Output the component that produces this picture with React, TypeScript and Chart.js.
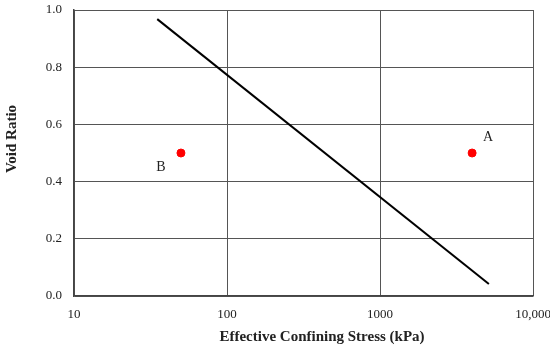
import React, { useEffect, useRef } from "react";
import { Chart, registerables } from "chart.js";
Chart.register(...registerables);

const lineX = [35, 5150];
const lineY = [0.968, 0.042];
const pointX = [4000, 50];
const pointY = [0.5, 0.5];
const pointLabels = ["A", "B"];
const xTicks = [10, 100, 1000, 10000];
const xTickLabels = ["10", "100", "1000", "10,000"];
const yTicks = [0, 0.2, 0.4, 0.6, 0.8, 1.0];
const xTitle = "Effective Confining Stress (kPa)";
const yTitle = "Void Ratio";

const FONT = "'Liberation Serif', 'DejaVu Serif', serif";

const labelPlugin = {
  id: "pointLabels",
  afterDatasetsDraw(chart: any) {
    const ctx = chart.ctx;
    const xs = chart.scales.x;
    const ys = chart.scales.y;
    const offsets = [
      [16, -16],
      [-20, 14],
    ];
    ctx.save();
    ctx.font = `14px ${FONT}`;
    ctx.fillStyle = "#222";
    ctx.textAlign = "center";
    ctx.textBaseline = "middle";
    pointLabels.forEach((t, i) => {
      const px = xs.getPixelForValue(pointX[i]);
      const py = ys.getPixelForValue(pointY[i]);
      ctx.fillText(t, px + offsets[i][0], py + offsets[i][1]);
    });
    // axis titles
    ctx.font = `bold 15px ${FONT}`;
    ctx.fillText(xTitle, 322, 337);
    ctx.translate(12, 139);
    ctx.rotate(-Math.PI / 2);
    ctx.fillText(yTitle, 0, 0);
    ctx.restore();
  },
};

export default function App() {
  const ref = useRef<HTMLCanvasElement>(null);
  useEffect(() => {
    const chart = new Chart(ref.current!, {
      type: "scatter",
      data: {
        datasets: [
          {
            label: "line",
            data: lineX.map((x, i) => ({ x, y: lineY[i] })),
            showLine: true,
            borderColor: "#000",
            borderWidth: 2,
            pointRadius: 0,
          },
          {
            label: "points",
            data: pointX.map((x, i) => ({ x, y: pointY[i] })),
            backgroundColor: "#ff0000",
            borderColor: "#ff0000",
            pointRadius: 4,
          },
        ],
      },
      options: {
        animation: false,
        responsive: true,
        maintainAspectRatio: false,
        layout: { padding: { top: 10, right: 17, left: 0, bottom: 0 } },
        plugins: { legend: { display: false }, tooltip: { enabled: false } },
        scales: {
          x: {
            type: "logarithmic",
            min: 10,
            max: 10000,
            afterBuildTicks: (axis: any) => {
              axis.ticks = xTicks.map((v) => ({ value: v }));
            },
            afterFit: (axis: any) => {
              axis.height = 54;
              axis.paddingRight = 0;
              axis.paddingLeft = 0;
            },
            ticks: {
              autoSkip: false,
              maxRotation: 0,
              padding: 11,
              color: "#222",
              font: { family: FONT, size: 13 },
              callback: (v: any) => {
                const i = xTicks.indexOf(Number(v));
                return i >= 0 ? xTickLabels[i] : "";
              },
            },
            grid: { color: "#555", lineWidth: 1, drawTicks: false },
            border: { color: "#444", width: 1.5 },
            title: { display: false },
          },
          y: {
            min: 0,
            max: 1,
            afterBuildTicks: (axis: any) => {
              axis.ticks = yTicks.map((v) => ({ value: v }));
            },
            afterFit: (axis: any) => {
              axis.width = 74;
              axis.paddingTop = 0;
              axis.paddingBottom = 0;
            },
            ticks: {
              padding: 12,
              color: "#222",
              font: { family: FONT, size: 13 },
              callback: (v: any) => Number(v).toFixed(1),
            },
            grid: { color: "#555", lineWidth: 1, drawTicks: false },
            border: { color: "#444", width: 1.5 },
            title: { display: false },
          },
        },
      },
      plugins: [labelPlugin],
    } as any);
    return () => chart.destroy();
  }, []);
  return (
    <div style={{ position: "absolute", left: 0, top: 0, width: 550, height: 350, background: "#fff" }}>
      <canvas ref={ref} />
    </div>
  );
}
